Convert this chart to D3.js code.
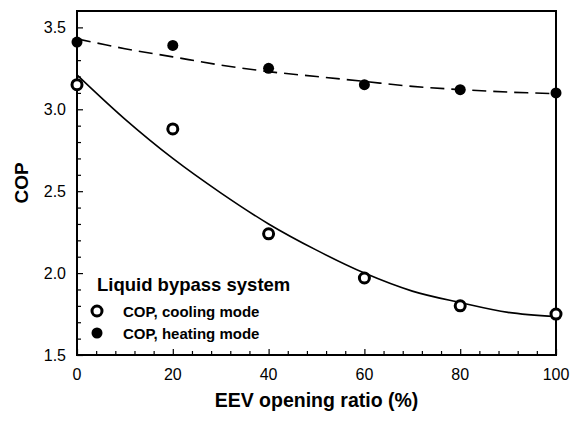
<!DOCTYPE html>
<html>
<head>
<meta charset="utf-8">
<script src="https://cdn.jsdelivr.net/npm/d3@7"></script>
<style>
  body { margin: 0; background: #fff; }
  text { font-family: "Liberation Sans", Arial, sans-serif; fill: #000; }
</style>
</head>
<body>
<div class="graph"></div>
<script>
// data
const openingRatio = [0, 20, 40, 60, 80, 100];
const copCooling = [3.15, 2.88, 2.24, 1.97, 1.80, 1.75];
const copHeating = [3.41, 3.39, 3.25, 3.15, 3.12, 3.10];

// fitted curves, read at every 10 %
const fitX = [0, 10, 20, 30, 40, 50, 60, 70, 80, 90, 100];
const fitCooling = [3.21, 2.94, 2.70, 2.49, 2.30, 2.14, 2.00, 1.89, 1.82, 1.76, 1.735];
const fitHeating = [3.43, 3.37, 3.32, 3.27, 3.23, 3.20, 3.17, 3.14, 3.12, 3.105, 3.095];

const xTicks = [0, 20, 40, 60, 80, 100];
const yTicks = [1.5, 2.0, 2.5, 3.0, 3.5];
const legendTitle = "Liquid bypass system";
const legendLabels = ["COP, cooling mode", "COP, heating mode"];

function main() {
  //setting
  const width = 576;
  const height = 421;
  const left = 77, right = 556, top = 11, bottom = 355;

  const xScale = d3.scaleLinear().domain([0, 100]).range([left, right]);
  const yScale = d3.scaleLinear().domain([1.5, 3.6]).range([bottom, top]);

  const svg = d3
    .select(".graph")
    .append("svg")
    .attr("width", width)
    .attr("height", height);

  //minor ticks (inward)
  const xMinor = d3.range(0, 101, 4).filter(v => v % 20 !== 0);
  const yMinor = d3.range(15, 36).map(v => v / 10).filter(v => Math.round(v * 10) % 5 !== 0);

  const xAxis = d3.axisTop(xScale).tickValues(xTicks).tickSize(6).tickFormat("");
  svg.append("g").attr("transform", "translate(0," + bottom + ")").call(xAxis);
  svg.append("g").attr("transform", "translate(0," + bottom + ")")
    .call(d3.axisTop(xScale).tickValues(xMinor).tickSize(4).tickFormat(""));

  const yAxis = d3.axisRight(yScale).tickValues(yTicks).tickSize(6).tickFormat("");
  svg.append("g").attr("transform", "translate(" + left + ",0)").call(yAxis);
  svg.append("g").attr("transform", "translate(" + left + ",0)")
    .call(d3.axisRight(yScale).tickValues(yMinor).tickSize(4).tickFormat(""));

  svg.selectAll(".domain").remove();
  svg.selectAll(".tick line").attr("stroke", "#000").attr("stroke-width", 1.2);

  //tick labels
  svg.selectAll(".xlab")
    .data(xTicks)
    .enter()
    .append("text")
    .attr("x", d => xScale(d))
    .attr("y", 380)
    .attr("text-anchor", "middle")
    .style("font-size", "16px")
    .text(d => d);
  svg.selectAll(".ylab")
    .data(yTicks)
    .enter()
    .append("text")
    .attr("x", 66)
    .attr("y", d => yScale(d) + 6)
    .attr("text-anchor", "end")
    .style("font-size", "16px")
    .text(d => d3.format(".1f")(d));

  //frame
  svg.append("rect")
    .attr("x", left)
    .attr("y", top)
    .attr("width", right - left)
    .attr("height", bottom - top)
    .attr("fill", "none")
    .attr("stroke", "#000")
    .attr("stroke-width", 2);

  //axis titles
  svg.append("text")
    .attr("x", (left + right) / 2)
    .attr("y", 407)
    .attr("text-anchor", "middle")
    .style("font-size", "19.5px")
    .style("font-weight", "bold")
    .text("EEV opening ratio (%)");
  svg.append("text")
    .attr("transform", "translate(28," + (top + bottom) / 2 + ") rotate(-90)")
    .attr("text-anchor", "middle")
    .style("font-size", "19px")
    .style("font-weight", "bold")
    .text("COP");

  //fit curves
  const line = d3.line()
    .x((d, i) => xScale(fitX[i]))
    .y(d => yScale(d))
    .curve(d3.curveCatmullRom);
  svg.append("path")
    .attr("d", line(fitCooling))
    .attr("fill", "none")
    .attr("stroke", "#000")
    .attr("stroke-width", 1.6);
  svg.append("path")
    .attr("d", line(fitHeating))
    .attr("fill", "none")
    .attr("stroke", "#000")
    .attr("stroke-width", 1.6)
    .attr("stroke-dasharray", "14,7");

  //dots
  svg.selectAll(".cool")
    .data(copCooling)
    .enter()
    .append("circle")
    .attr("cx", (d, i) => xScale(openingRatio[i]))
    .attr("cy", d => yScale(d))
    .attr("r", 5)
    .attr("fill", "#fff")
    .attr("stroke", "#000")
    .attr("stroke-width", 3);
  svg.selectAll(".heat")
    .data(copHeating)
    .enter()
    .append("circle")
    .attr("cx", (d, i) => xScale(openingRatio[i]))
    .attr("cy", d => yScale(d))
    .attr("r", 5.5)
    .attr("fill", "#000");

  //legend
  svg.append("text")
    .attr("x", 97)
    .attr("y", 291)
    .style("font-size", "18.5px")
    .style("font-weight", "bold")
    .text(legendTitle);
  svg.append("circle")
    .attr("cx", 97).attr("cy", 311).attr("r", 5)
    .attr("fill", "#fff").attr("stroke", "#000").attr("stroke-width", 3);
  svg.append("circle")
    .attr("cx", 97).attr("cy", 333).attr("r", 5.5)
    .attr("fill", "#000");
  svg.selectAll(".leg")
    .data(legendLabels)
    .enter()
    .append("text")
    .attr("x", 123)
    .attr("y", (d, i) => 317 + i * 21.5)
    .style("font-size", "15px")
    .style("font-weight", "bold")
    .text(d => d);
}

main();
</script>
</body>
</html>
